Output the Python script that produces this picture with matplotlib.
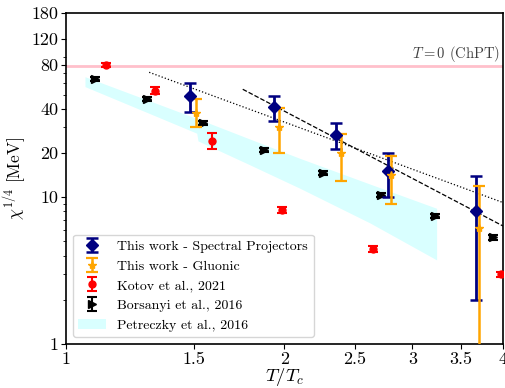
import numpy as np
import matplotlib
matplotlib.use('Agg')
import matplotlib.pyplot as plt
from matplotlib.ticker import NullLocator, LogLocator, NullFormatter

# This work - Spectral Projectors
sp_T = [1.482, 1.936, 2.355, 2.780, 3.675]
sp_chi = [48.9, 41.4, 26.5, 15.2, 8.06]
sp_hi = [60.3, 48.9, 31.9, 19.9, 14.0]
sp_lo = [38.1, 33.1, 21.2, 9.99, 1.99]

# This work - Gluonic
gl_T = [1.510, 1.965, 2.390, 2.804, 3.711]
gl_chi = [37.5, 30.2, 19.9, 14.2, 6.14]
gl_hi = [46.5, 40.4, 26.97, 19.1, 11.98]
gl_lo = [29.96, 20.1, 12.96, 8.99, 0.5]

# Kotov et al., 2021
kot_T = [1.136, 1.326, 1.591, 1.986, 2.646, 3.97]
kot_chi = [79.6, 53.2, 24.3, 8.18, 4.42, 2.98]
kot_err = [3.0, 2.9, 2.9, 0.35, 0.2, 0.12]

# Borsanyi et al., 2016
bor_T = [1.096, 1.292, 1.546, 1.876, 2.262, 2.714, 3.224, 3.871]
bor_chi = [63.9, 46.7, 31.9, 20.98, 14.7, 10.36, 7.48, 5.33]
bor_err = [2.0, 1.5, 1.0, 0.7, 0.5, 0.35, 0.25, 0.2]

# Petreczky et al., 2016 band
pet_T = [1.062, 1.305, 1.514, 1.520, 1.793, 2.101, 2.623, 3.241]
pet_lo = [56.7, 37.1, 27.3, 24.2, 16.6, 11.5, 6.68, 3.74]
pet_hi = [66.3, 45.3, 34.4, 34.2, 24.9, 18.4, 12.3, 8.41]

# guide lines (end points)
dotted_T = [1.302, 4.0]
dotted_chi = [71.0, 9.2]
dashed_T = [1.752, 4.0]
dashed_chi = [54.4, 6.37]

chpt_value = 78.0

xticks = [1, 1.5, 2, 2.5, 3, 3.5, 4]
xticklabels = ['1', '1.5', '2', '2.5', '3', '3.5', '4']
yticks = [1, 10, 20, 40, 80, 120, 180]
yticklabels = ['1', '10', '20', '40', '80', '120', '180']


def asym(y, hi, lo):
    y = np.array(y)
    return [y - np.array(lo), np.array(hi) - y]


def main():
    plt.rcParams['font.family'] = 'serif'
    plt.rcParams['font.serif'] = ['cmr10']
    plt.rcParams['mathtext.fontset'] = 'cm'
    plt.rcParams['axes.unicode_minus'] = False
    plt.rcParams['axes.formatter.use_mathtext'] = True

    fig = plt.figure(figsize=(5.06, 3.88), dpi=100)
    ax = fig.add_axes([0.1304, 0.1134, 0.8636, 0.8531])
    ax.set_xscale('log')
    ax.set_yscale('log')

    ax.axhline(chpt_value, color='pink', lw=2, zorder=1)
    ax.text(3.96, chpt_value * 1.04, r'$T=0$ (ChPT)', ha='right', va='bottom',
            fontsize=10.5, color='0.25')

    ax.fill_between(pet_T, pet_lo, pet_hi, color='cyan', alpha=0.15, lw=0,
                    label='Petreczky et al., 2016', zorder=1)

    ax.plot(dotted_T, dotted_chi, ':', color='k', lw=0.9, zorder=2)
    ax.plot(dashed_T, dashed_chi, '--', color='k', lw=0.9, zorder=2)

    ax.errorbar(sp_T, sp_chi, yerr=asym(sp_chi, sp_hi, sp_lo), fmt='D', color='navy',
                ms=6, elinewidth=2, capsize=4.5, capthick=1.8,
                label='This work - Spectral Projectors', zorder=4)
    ax.errorbar(gl_T, gl_chi, yerr=asym(gl_chi, gl_hi, gl_lo), fmt='*', color='orange',
                ms=6, elinewidth=1.8, capsize=4.5, capthick=1.6,
                label='This work - Gluonic', zorder=4)
    ax.errorbar(kot_T, kot_chi, yerr=kot_err, fmt='o', color='red',
                ms=5, elinewidth=1.5, capsize=3.5, capthick=1.5,
                label='Kotov et al., 2021', zorder=3)
    ax.errorbar(bor_T, bor_chi, yerr=bor_err, fmt='>', color='black',
                ms=5.5, elinewidth=1.5, capsize=3.5, capthick=1.5,
                label='Borsanyi et al., 2016', zorder=3)

    ax.set_xlim(1, 4)
    ax.set_ylim(1, 180)
    ax.set_xticks(xticks, xticklabels)
    ax.xaxis.set_minor_locator(NullLocator())
    ax.set_yticks(yticks, yticklabels)
    ax.yaxis.set_minor_locator(LogLocator(base=10, subs=np.arange(2, 10)))
    ax.yaxis.set_minor_formatter(NullFormatter())
    ax.tick_params(labelsize=13, pad=2)
    for s in ax.spines.values():
        s.set_linewidth(1.2)

    ax.set_xlabel(r'$T/T_c$', fontsize=13.5, labelpad=-1)
    ax.set_ylabel(r'$\chi^{1/4}$ [MeV]', fontsize=12.5, labelpad=2)

    handles, labels = ax.get_legend_handles_labels()
    order = [1, 2, 3, 4, 0]
    ax.legend([handles[i] for i in order], [labels[i] for i in order],
              loc='lower left', fontsize=10)

    fig.savefig('out.png', dpi=100)


if __name__ == "__main__":
    main()
